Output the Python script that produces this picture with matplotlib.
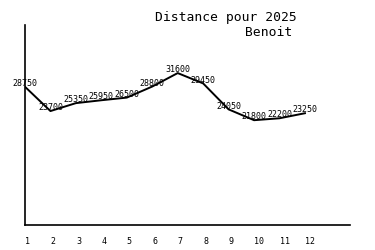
import matplotlib
matplotlib.use("Agg")
import matplotlib.pyplot as plt

months = [1, 2, 3, 4, 5, 6, 7, 8, 9, 10, 11, 12]
distances = [28750, 23700, 25350, 25950, 26500, 28800, 31600, 29450, 24050, 21800, 22200, 23250]
title_line1 = "Distance pour 2025"
title_line2 = "Benoit"

fig = plt.figure(figsize=(3.75, 2.5), dpi=100)
ax = fig.add_axes([25/375, 0.1, 325/375, 0.8])
ax.plot(months, distances, color="black", linewidth=1.4)
for m, d in zip(months, distances):
    ax.text(m, d + 700, str(d), ha="center", va="center",
            fontsize=6, family="DejaVu Sans Mono", color="black")
ax.set_xlim(1, 13.77)
ax.set_ylim(0, 41600)
ax.spines["top"].set_visible(False)
ax.spines["right"].set_visible(False)
ax.spines["left"].set_linewidth(1.2)
ax.spines["bottom"].set_linewidth(1.2)
ax.set_yticks([])
ax.set_xticks(months)
ax.set_xticklabels([str(m) for m in months], fontsize=6, family="DejaVu Sans Mono", ha="left")
ax.tick_params(axis="x", length=0, pad=9)
fig.text(226/375, 1 - 18/250, title_line1, ha="center", va="center",
         fontsize=9.4, family="DejaVu Sans Mono")
fig.text(292/375, 1 - 33/250, title_line2, ha="right", va="center",
         fontsize=9.4, family="DejaVu Sans Mono")
fig.savefig("out.png", dpi=100)
